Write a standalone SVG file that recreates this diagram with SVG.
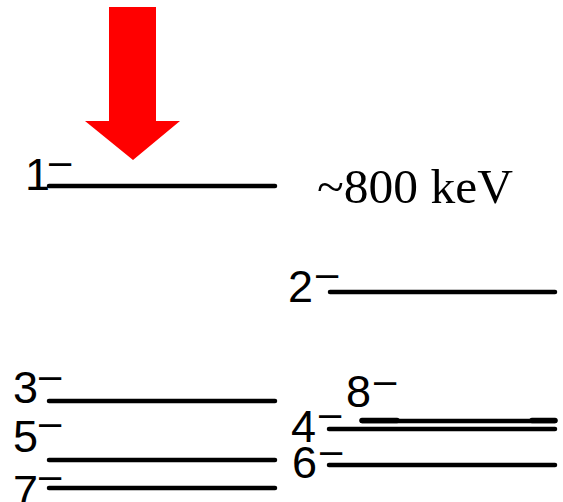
<svg xmlns="http://www.w3.org/2000/svg" width="563" height="502" viewBox="0 0 563 502">
<style>
.lvl{stroke:#000;stroke-width:4.5;stroke-linecap:round;fill:none}
.num{font-family:"Liberation Sans",Arial,sans-serif;font-size:45px;fill:#000}
.sup{font-family:"Liberation Sans",Arial,sans-serif;font-size:40px;fill:#000}
.e{font-family:"Liberation Serif","Times New Roman",serif;font-size:49.5px;fill:#000}
</style>
<rect width="563" height="502" fill="#fff"/>
<g id="arrow">
<polygon points="109,7 156,7 156,121 180,121 133,160 85,121 109,121" fill="#ff0000"/>
</g>
<g id="connectors"></g>
<g id="level1">
<line class="lvl" x1="49" y1="186" x2="275" y2="186"/>
<text class="num" x="25" y="190">1</text>
<text class="sup" x="49" y="175">–</text>
</g>
<g id="energy">
<text class="e" x="317" y="203">~800 keV</text>
</g>
<g id="level2">
<line class="lvl" x1="330" y1="292" x2="555" y2="292"/>
<text class="num" x="288" y="302">2</text>
<text class="sup" x="316" y="287">–</text>
</g>
<g id="level3">
<line class="lvl" x1="49" y1="401" x2="275" y2="401"/>
<text class="num" x="13" y="403">3</text>
<text class="sup" x="39" y="389">–</text>
</g>
<g id="level5">
<line class="lvl" x1="49" y1="460" x2="275" y2="460"/>
<text class="num" x="13" y="452">5</text>
<text class="sup" x="39" y="436">–</text>
</g>
<g id="level7">
<line class="lvl" x1="49" y1="488" x2="275" y2="488"/>
<text class="num" x="13" y="507">7</text>
<text class="sup" x="39" y="489">–</text>
</g>
<g id="level8">
<line class="lvl" x1="362" y1="421" x2="555" y2="421"/>
<line class="lvl" x1="362" y1="420.5" x2="397" y2="420.5" style="stroke-width:5.5"/>
<line class="lvl" x1="532" y1="420.5" x2="555" y2="420.5" style="stroke-width:5.5"/>
<text class="num" x="346" y="407">8</text>
<text class="sup" x="374" y="394">–</text>
</g>
<g id="level4">
<line class="lvl" x1="329" y1="429" x2="555" y2="429"/>
<text class="num" x="291" y="442">4</text>
<text class="sup" x="319" y="427">–</text>
</g>
<g id="level6">
<line class="lvl" x1="329" y1="465" x2="555" y2="465"/>
<text class="num" x="292" y="478">6</text>
<text class="sup" x="320" y="464">–</text>
</g>
</svg>
